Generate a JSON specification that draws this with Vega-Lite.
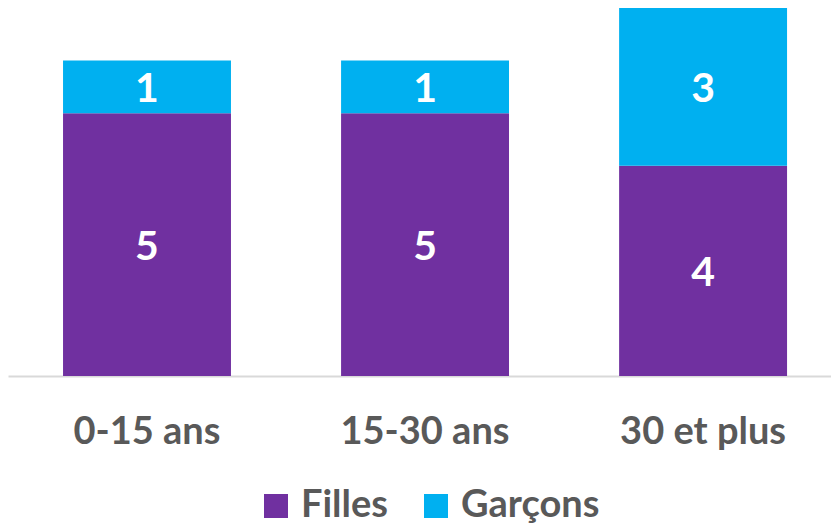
{
  "$schema": "https://vega.github.io/schema/vega-lite/v6.json",
  "width": 823,
  "height": 368,
  "autosize": "none",
  "padding": {"left": 8, "top": 8, "right": 0, "bottom": 149},
  "background": "white",
  "config": {"view": {"stroke": null}},
  "data": {"values": [
    {"groupe": "0-15 ans", "sexe": "Filles", "n": 5},
    {"groupe": "0-15 ans", "sexe": "Garçons", "n": 1},
    {"groupe": "15-30 ans", "sexe": "Filles", "n": 5},
    {"groupe": "15-30 ans", "sexe": "Garçons", "n": 1},
    {"groupe": "30 et plus", "sexe": "Filles", "n": 4},
    {"groupe": "30 et plus", "sexe": "Garçons", "n": 3}
  ]},
  "transform": [
    {"stack": "n", "groupby": ["groupe"], "sort": [{"field": "sexe", "order": "ascending"}], "as": ["y0", "y1"]},
    {"calculate": "(datum.y0 + datum.y1) / 2", "as": "ymid"}
  ],
  "encoding": {
    "x": {
      "field": "groupe", "type": "nominal", "sort": null, "title": null,
      "scale": {"paddingInner": 0.396, "paddingOuter": 0.178, "align": 0.556},
      "axis": {
        "labelAngle": 0, "labelFont": "Lato", "labelFontSize": 38, "labelFontWeight": "bold",
        "labelColor": "#595959", "labelPadding": 37, "ticks": false,
        "domainColor": "#d9d9d9", "domainWidth": 2
      }
    }
  },
  "layer": [
    {
      "mark": {"type": "bar"},
      "encoding": {
        "y": {"field": "y0", "type": "quantitative", "scale": {"domain": [0, 7], "nice": false}, "axis": null},
        "y2": {"field": "y1"},
        "color": {
          "field": "sexe", "type": "nominal", "title": null,
          "scale": {"domain": ["Filles", "Garçons"], "range": ["#7030A0", "#00B0F0"]},
          "legend": {
            "orient": "none", "direction": "horizontal", "legendX": 249, "legendY": 479,
            "padding": 0, "symbolType": "square", "symbolSize": 576, "symbolStrokeWidth": 0,
            "labelFont": "Lato", "labelFontSize": 38, "labelFontWeight": "bold", "labelColor": "#595959",
            "labelOffset": 6, "columnPadding": 28, "labelLimit": 400
          }
        }
      }
    },
    {
      "mark": {"type": "text", "color": "white", "font": "Lato", "fontSize": 41, "fontWeight": "bold", "baseline": "middle", "dy": 3},
      "encoding": {
        "y": {"field": "ymid", "type": "quantitative"},
        "text": {"field": "n", "type": "quantitative"}
      }
    }
  ]
}
